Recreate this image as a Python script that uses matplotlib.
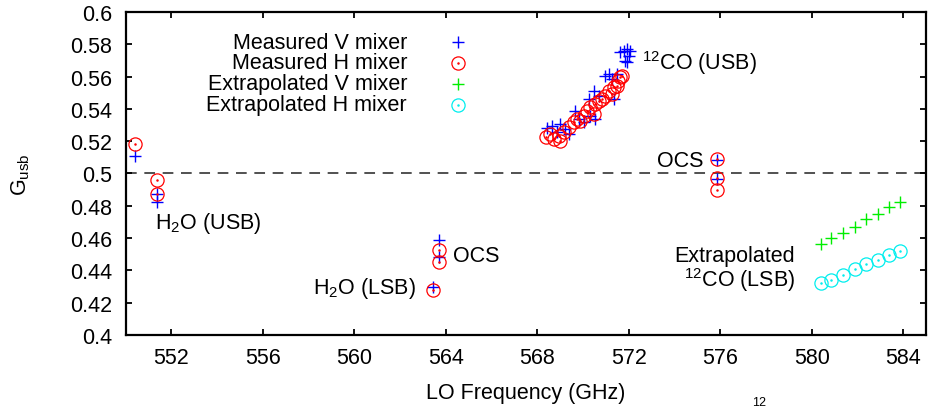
import matplotlib
matplotlib.use("Agg")
import matplotlib.pyplot as plt
from matplotlib.lines import Line2D

plt.rcParams['font.family'] = ['Liberation Sans', 'DejaVu Sans']
plt.rcParams['mathtext.fontset'] = 'custom'
plt.rcParams['mathtext.rm'] = 'Liberation Sans'
plt.rcParams['mathtext.it'] = 'Liberation Sans'
plt.rcParams['mathtext.default'] = 'regular'

FS = 15.5

# Measured sideband gain, V mixer (LO frequency in GHz)
meas_v_freq = [550.42, 551.38, 551.38, 563.42, 563.72, 563.72, 575.84, 575.84,
               568.43, 568.65, 569.01, 568.86, 569.23, 569.37, 569.66, 569.81,
               570.03, 570.24, 570.32, 570.54, 570.46, 570.68, 570.97, 571.12,
               571.34, 571.26, 571.48, 571.63, 571.77, 571.92, 572.05, 571.99,
               571.84, 571.92]
meas_v_gusb = [0.5107, 0.4873, 0.4826, 0.4295, 0.4590, 0.4483, 0.5086, 0.4966,
               0.5280, 0.5292, 0.5307, 0.5255, 0.5276, 0.5245, 0.5389, 0.5338,
               0.5317, 0.5461, 0.5358, 0.5338, 0.5513, 0.5482, 0.5606, 0.5616,
               0.5461, 0.5585, 0.5616, 0.5750, 0.5761, 0.5771, 0.5761, 0.5730,
               0.5699, 0.5688]

# Measured sideband gain, H mixer
meas_h_freq = [550.42, 551.38, 551.38, 563.42, 563.72, 563.72, 575.84, 575.84, 575.84,
               568.36, 568.57, 568.72, 569.01, 568.94, 569.15, 569.37, 569.59,
               569.74, 569.88, 570.03, 570.17, 570.32, 570.54, 570.46, 570.68,
               570.83, 570.97, 571.12, 571.34, 571.26, 571.48, 571.55, 571.70,
               571.63]
meas_h_gusb = [0.5183, 0.4962, 0.4873, 0.4279, 0.4528, 0.4455, 0.5090, 0.4972, 0.4900,
               0.5224, 0.5245, 0.5214, 0.5203, 0.5234, 0.5255, 0.5286, 0.5317,
               0.5338, 0.5327, 0.5358, 0.5389, 0.5410, 0.5430, 0.5368, 0.5451,
               0.5461, 0.5482, 0.5513, 0.5534, 0.5492, 0.5544, 0.5575, 0.5606,
               0.5596]

# Extrapolated 12CO (LSB) gains
extra_freq = [580.42, 580.86, 581.37, 581.88, 582.38, 582.89, 583.38, 583.84]
extra_v_gusb = [0.4563, 0.4599, 0.4632, 0.4667, 0.4718, 0.4749, 0.4791, 0.4822]
extra_h_gusb = [0.4320, 0.4342, 0.4373, 0.4409, 0.4440, 0.4464, 0.4497, 0.4522]

x_ticks = [552, 556, 560, 564, 568, 572, 576, 580, 584]
y_ticks = [0.4, 0.42, 0.44, 0.46, 0.48, 0.5, 0.52, 0.54, 0.56, 0.58, 0.6]

fig = plt.figure(figsize=(9.29, 4.10), dpi=100)
ax = fig.add_axes([0.1353, 0.1805, 0.8615, 0.7878])

plus_kw = dict(linestyle='none', marker='+', markersize=8.5, markeredgewidth=1.0)
ring_kw = dict(linestyle='none', marker='o', markersize=9.5, markeredgewidth=0.9,
               fillstyle='none')
dot_kw = dict(linestyle='none', marker='.', markersize=1.6)

ax.axhline(0.5, color='#222222', lw=1.1, dashes=(7, 5), zorder=1)

ax.plot(meas_v_freq, meas_v_gusb, color='#0000ff', **plus_kw)
ax.plot(meas_h_freq, meas_h_gusb, color='#ff0000', **ring_kw)
ax.plot(meas_h_freq, meas_h_gusb, color='#ff0000', **dot_kw)
ax.plot(extra_freq, extra_v_gusb, color='#00ee00', **plus_kw)
ax.plot(extra_freq, extra_h_gusb, color='#00eeee', **ring_kw)
ax.plot(extra_freq, extra_h_gusb, color='#00eeee', **dot_kw)

# legend drawn by hand: right-aligned labels with keys to the right
legend_rows = [("Measured V mixer", '#0000ff', '+'),
               ("Measured H mixer", '#ff0000', 'o'),
               ("Extrapolated V mixer", '#00ee00', '+'),
               ("Extrapolated H mixer", '#00eeee', 'o')]
for i, (label, col, mk) in enumerate(legend_rows):
    ty = 0.9071 - i * 0.065
    ax.text(0.3515, ty, label, transform=ax.transAxes, ha='right', va='center',
            fontsize=FS)
    kw = plus_kw if mk == '+' else ring_kw
    ax.add_line(Line2D([0.4151], [ty], transform=ax.transAxes, color=col, **kw))
    if mk == 'o':
        ax.add_line(Line2D([0.4151], [ty], transform=ax.transAxes, color=col, **dot_kw))

# line identifications
ax.text(551.28, 0.4663, "H$_2$O (USB)", fontsize=FS, ha='left', va='baseline')
ax.text(562.69, 0.4262, "H$_2$O (LSB)", fontsize=FS, ha='right', va='baseline')
ax.text(564.32, 0.4458, "OCS", fontsize=FS, ha='left', va='baseline')
ax.text(572.56, 0.5647, "$^{12}$CO (USB)", fontsize=FS, ha='left', va='baseline')
ax.text(575.26, 0.5046, "OCS", fontsize=FS, ha='right', va='baseline')
ax.text(579.27, 0.4460, "Extrapolated", fontsize=FS, ha='right', va='baseline')
ax.text(579.27, 0.4303, "$^{12}$CO (LSB)", fontsize=FS, ha='right', va='baseline')

ax.set_xlim(550, 585)
ax.set_ylim(0.4, 0.6)
ax.set_xticks(x_ticks)
ax.set_yticks(y_ticks)
ax.set_yticklabels([f"{v:g}" for v in y_ticks])
ax.tick_params(direction='in', length=4.5, width=1.3, top=True, right=True,
               labelsize=FS)
ax.tick_params(axis='y', pad=10)
ax.tick_params(axis='x', pad=9)
for sp in ax.spines.values():
    sp.set_linewidth(1.6)

ax.set_xlabel("LO Frequency (GHz)", fontsize=FS, labelpad=10)
ax.set_ylabel("G$_{usb}$", fontsize=FS, labelpad=27)

# start of the caption below the figure
fig.text(0.8095, 0.002, "12", fontsize=9, ha='left', va='bottom')

fig.savefig("out.png", dpi=100)
